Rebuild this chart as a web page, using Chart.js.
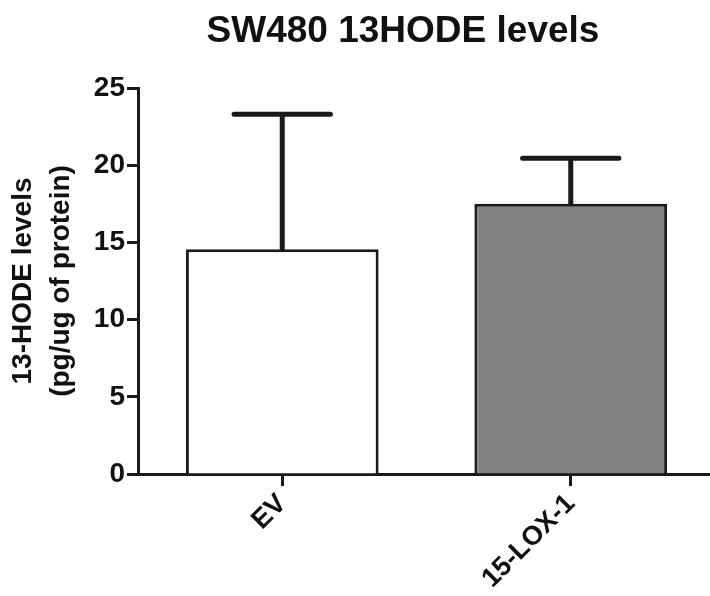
<!DOCTYPE html>
<html>
<head>
<meta charset="utf-8">
<script src="https://cdn.jsdelivr.net/npm/chart.js@4/dist/chart.umd.min.js"></script>
<style>
  html, body { margin: 0; padding: 0; background: #fff; overflow: hidden; width: 710px; height: 596px; }
  #box { width: 740px; height: 596px; }
</style>
</head>
<body>
<div id="box"><canvas id="grafico"></canvas></div>
<script>
// dati
const categorie = ["EV", "15-LOX-1"];
const medie = [14.55, 17.5];
const erroriSup = [8.75, 2.95];
const tickY = [0, 5, 10, 15, 20, 25];
const titolo = "SW480 13HODE levels";
const titoloAsseY = ["13-HODE levels", "(pg/ug of protein)"];
const colori = ["#ffffff", "#818281"];

const font = "'Liberation Sans', Arial, sans-serif";
const nero = "#1a1a1a";

// barre di errore (solo verso l'alto, come nell'originale)
const barreErrore = {
    id: "barreErrore",
    afterDatasetsDraw(chart) {
        const ctx = chart.ctx;
        const y = chart.scales.y;
        const meta = chart.getDatasetMeta(0);
        ctx.save();
        ctx.strokeStyle = nero;
        ctx.lineWidth = 5;
        ctx.lineCap = "round";
        meta.data.forEach((bar, i) => {
            const yBase = y.getPixelForValue(medie[i]);
            const yTop = y.getPixelForValue(medie[i] + erroriSup[i]);
            const mezzo = bar.width / 4;
            ctx.beginPath();
            ctx.moveTo(bar.x, yBase);
            ctx.lineTo(bar.x, yTop);
            ctx.moveTo(bar.x - mezzo, yTop);
            ctx.lineTo(bar.x + mezzo, yTop);
            ctx.stroke();
        });
        ctx.restore();
    }
};

// titolo, come nell'originale non centrato sulla tela
const titoloPlugin = {
    id: "titoloPlugin",
    afterDraw(chart) {
        const ctx = chart.ctx;
        ctx.save();
        ctx.fillStyle = "#111";
        ctx.font = "bold 37px " + font;
        ctx.textAlign = "center";
        ctx.textBaseline = "alphabetic";
        ctx.fillText(titolo, 403, 42);
        ctx.restore();
    }
};

new Chart(document.getElementById("grafico"), {
    type: "bar",
    data: {
        labels: categorie,
        datasets: [{
            data: medie,
            backgroundColor: colori,
            borderColor: nero,
            borderWidth: 3,
            borderSkipped: "bottom",
            categoryPercentage: 1,
            barPercentage: 0.668
        }]
    },
    options: {
        responsive: true,
        maintainAspectRatio: false,
        animation: false,
        devicePixelRatio: 1,
        layout: { padding: { top: 88, right: 25, left: 0, bottom: 0 } },
        plugins: {
            legend: { display: false },
            tooltip: { enabled: false },
            title: { display: false }
        },
        scales: {
            x: {
                offset: true,
                grid: { display: true, drawOnChartArea: false, offset: false, tickLength: 12, tickWidth: 3, tickColor: nero },
                border: { display: true, color: nero, width: 3 },
                ticks: {
                    color: "#111",
                    font: { family: font, size: 27, weight: "bold" },
                    minRotation: 45,
                    maxRotation: 45,
                    padding: 2
                },
                afterFit(scale) { scale.height = 122; }
            },
            y: {
                min: 0,
                max: 25,
                afterBuildTicks(scale) { scale.ticks = tickY.map(v => ({ value: v })); },
                grid: { display: true, drawOnChartArea: false, tickLength: 11, tickWidth: 3, tickColor: nero },
                border: { display: true, color: nero, width: 3 },
                ticks: {
                    color: "#111",
                    font: { family: font, size: 28, weight: "bold" },
                    padding: 2
                },
                title: {
                    display: true,
                    text: titoloAsseY,
                    color: "#111",
                    font: { family: font, size: 28, weight: "bold", lineHeight: 1.33 },
                    padding: { top: 5, bottom: 0 }
                },
                afterFit(scale) { scale.width = 138; }
            }
        }
    },
    plugins: [barreErrore, titoloPlugin]
});
</script>
</body>
</html>
